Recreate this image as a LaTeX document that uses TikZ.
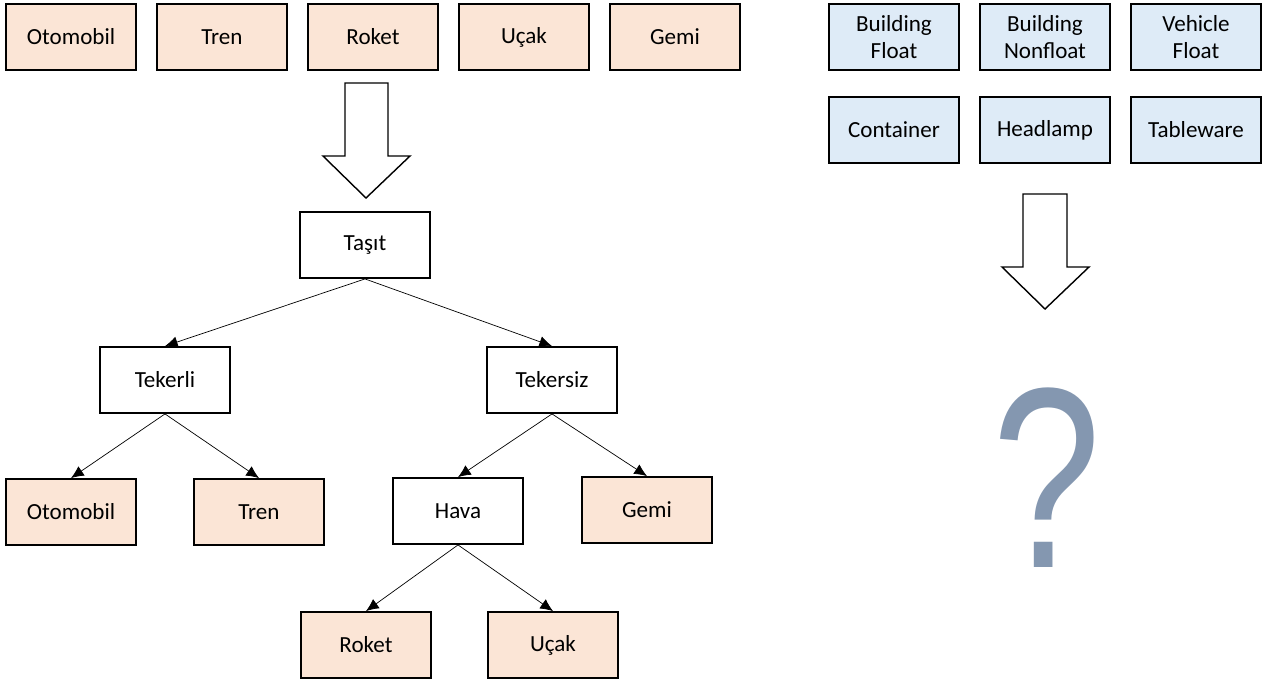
\documentclass[tikz,border=0pt]{standalone}
\usepackage{fontspec}
\setmainfont{Carlito}
\newfontfamily\qfont{Liberation Sans}
\usetikzlibrary{positioning, arrows.meta}
\definecolor{boxpeach}{HTML}{FBE5D6}
\definecolor{boxblue}{HTML}{DEEBF7}
\definecolor{qgray}{HTML}{8497B0}
\begin{document}
\begin{tikzpicture}[x=0.025cm, y=-0.025cm, font=\fontsize{16.4}{19.5}\selectfont,
    item/.style={draw, line width=1.3pt, minimum width=3.25cm, minimum height=1.65cm, inner sep=0pt, align=center},
    vehbox/.style={item, fill=boxpeach},
    objbox/.style={item, fill=boxblue},
    catbox/.style={item, fill=white},
    link/.style={-{Latex[length=9pt, width=8pt]}, line width=0.5pt},
    bigarrow/.style={draw, line width=1pt, fill=white, line join=miter}]
    \useasboundingbox (0,0) rectangle (1268,679);
    % vehicles, top row
    \node[vehbox] (oto1) at (71,37) {Otomobil};
    \node[vehbox] (tren1) at (222,37) {Tren};
    \node[vehbox] (rok1) at (373,37) {Roket};
    \node[vehbox] (ucak1) at (524,37) {Uçak};
    \node[vehbox] (gemi1) at (675,37) {Gemi};
    \draw[bigarrow] (345,83) -- (388,83) -- (388,156) -- (410,156) -- (366,198)
      -- (323,156) -- (345,156) -- cycle;
    % tree
    \node[catbox] (tasit) at (365,245) {Taşıt};
    \node[catbox] (tekerli) at (165,380) {Tekerli};
    \node[catbox] (tekersiz) at (552,380) {Tekersiz};
    \node[vehbox] (oto2) at (71,512) {Otomobil};
    \node[vehbox] (tren2) at (259,512) {Tren};
    \node[catbox] (hava) at (458,511) {Hava};
    \node[vehbox] (gemi2) at (647,510) {Gemi};
    \node[vehbox] (rok2) at (366,645) {Roket};
    \node[vehbox] (ucak2) at (553,645) {Uçak};
    \draw[link] (tasit.south) -- (tekerli.north);
    \draw[link] (tasit.south) -- (tekersiz.north);
    \draw[link] (tekerli.south) -- (oto2.north);
    \draw[link] (tekerli.south) -- (tren2.north);
    \draw[link] (tekersiz.south) -- (hava.north);
    \draw[link] (tekersiz.south) -- (gemi2.north);
    \draw[link] (hava.south) -- (rok2.north);
    \draw[link] (hava.south) -- (ucak2.north);
    % objects, right side
    \node[objbox] (bfloat) at (894,37) {Building\\Float};
    \node[objbox] (bnon) at (1045,37) {Building\\Nonfloat};
    \node[objbox] (vfloat) at (1196,37) {Vehicle\\Float};
    \node[objbox] (cont) at (894,130) {Container};
    \node[objbox] (head) at (1045,130) {Headlamp};
    \node[objbox] (table) at (1196,130) {Tableware};
    \draw[bigarrow] (1023,194) -- (1067,194) -- (1067,267) -- (1089,267) -- (1045,309)
      -- (1002,267) -- (1023,267) -- cycle;
    \node[text=qgray, font=\qfont\fontsize{183}{183}\selectfont, inner sep=0pt, anchor=base,
      xscale=0.76, transform shape] (quest) at (1047,567) {?};
\end{tikzpicture}
\end{document}
